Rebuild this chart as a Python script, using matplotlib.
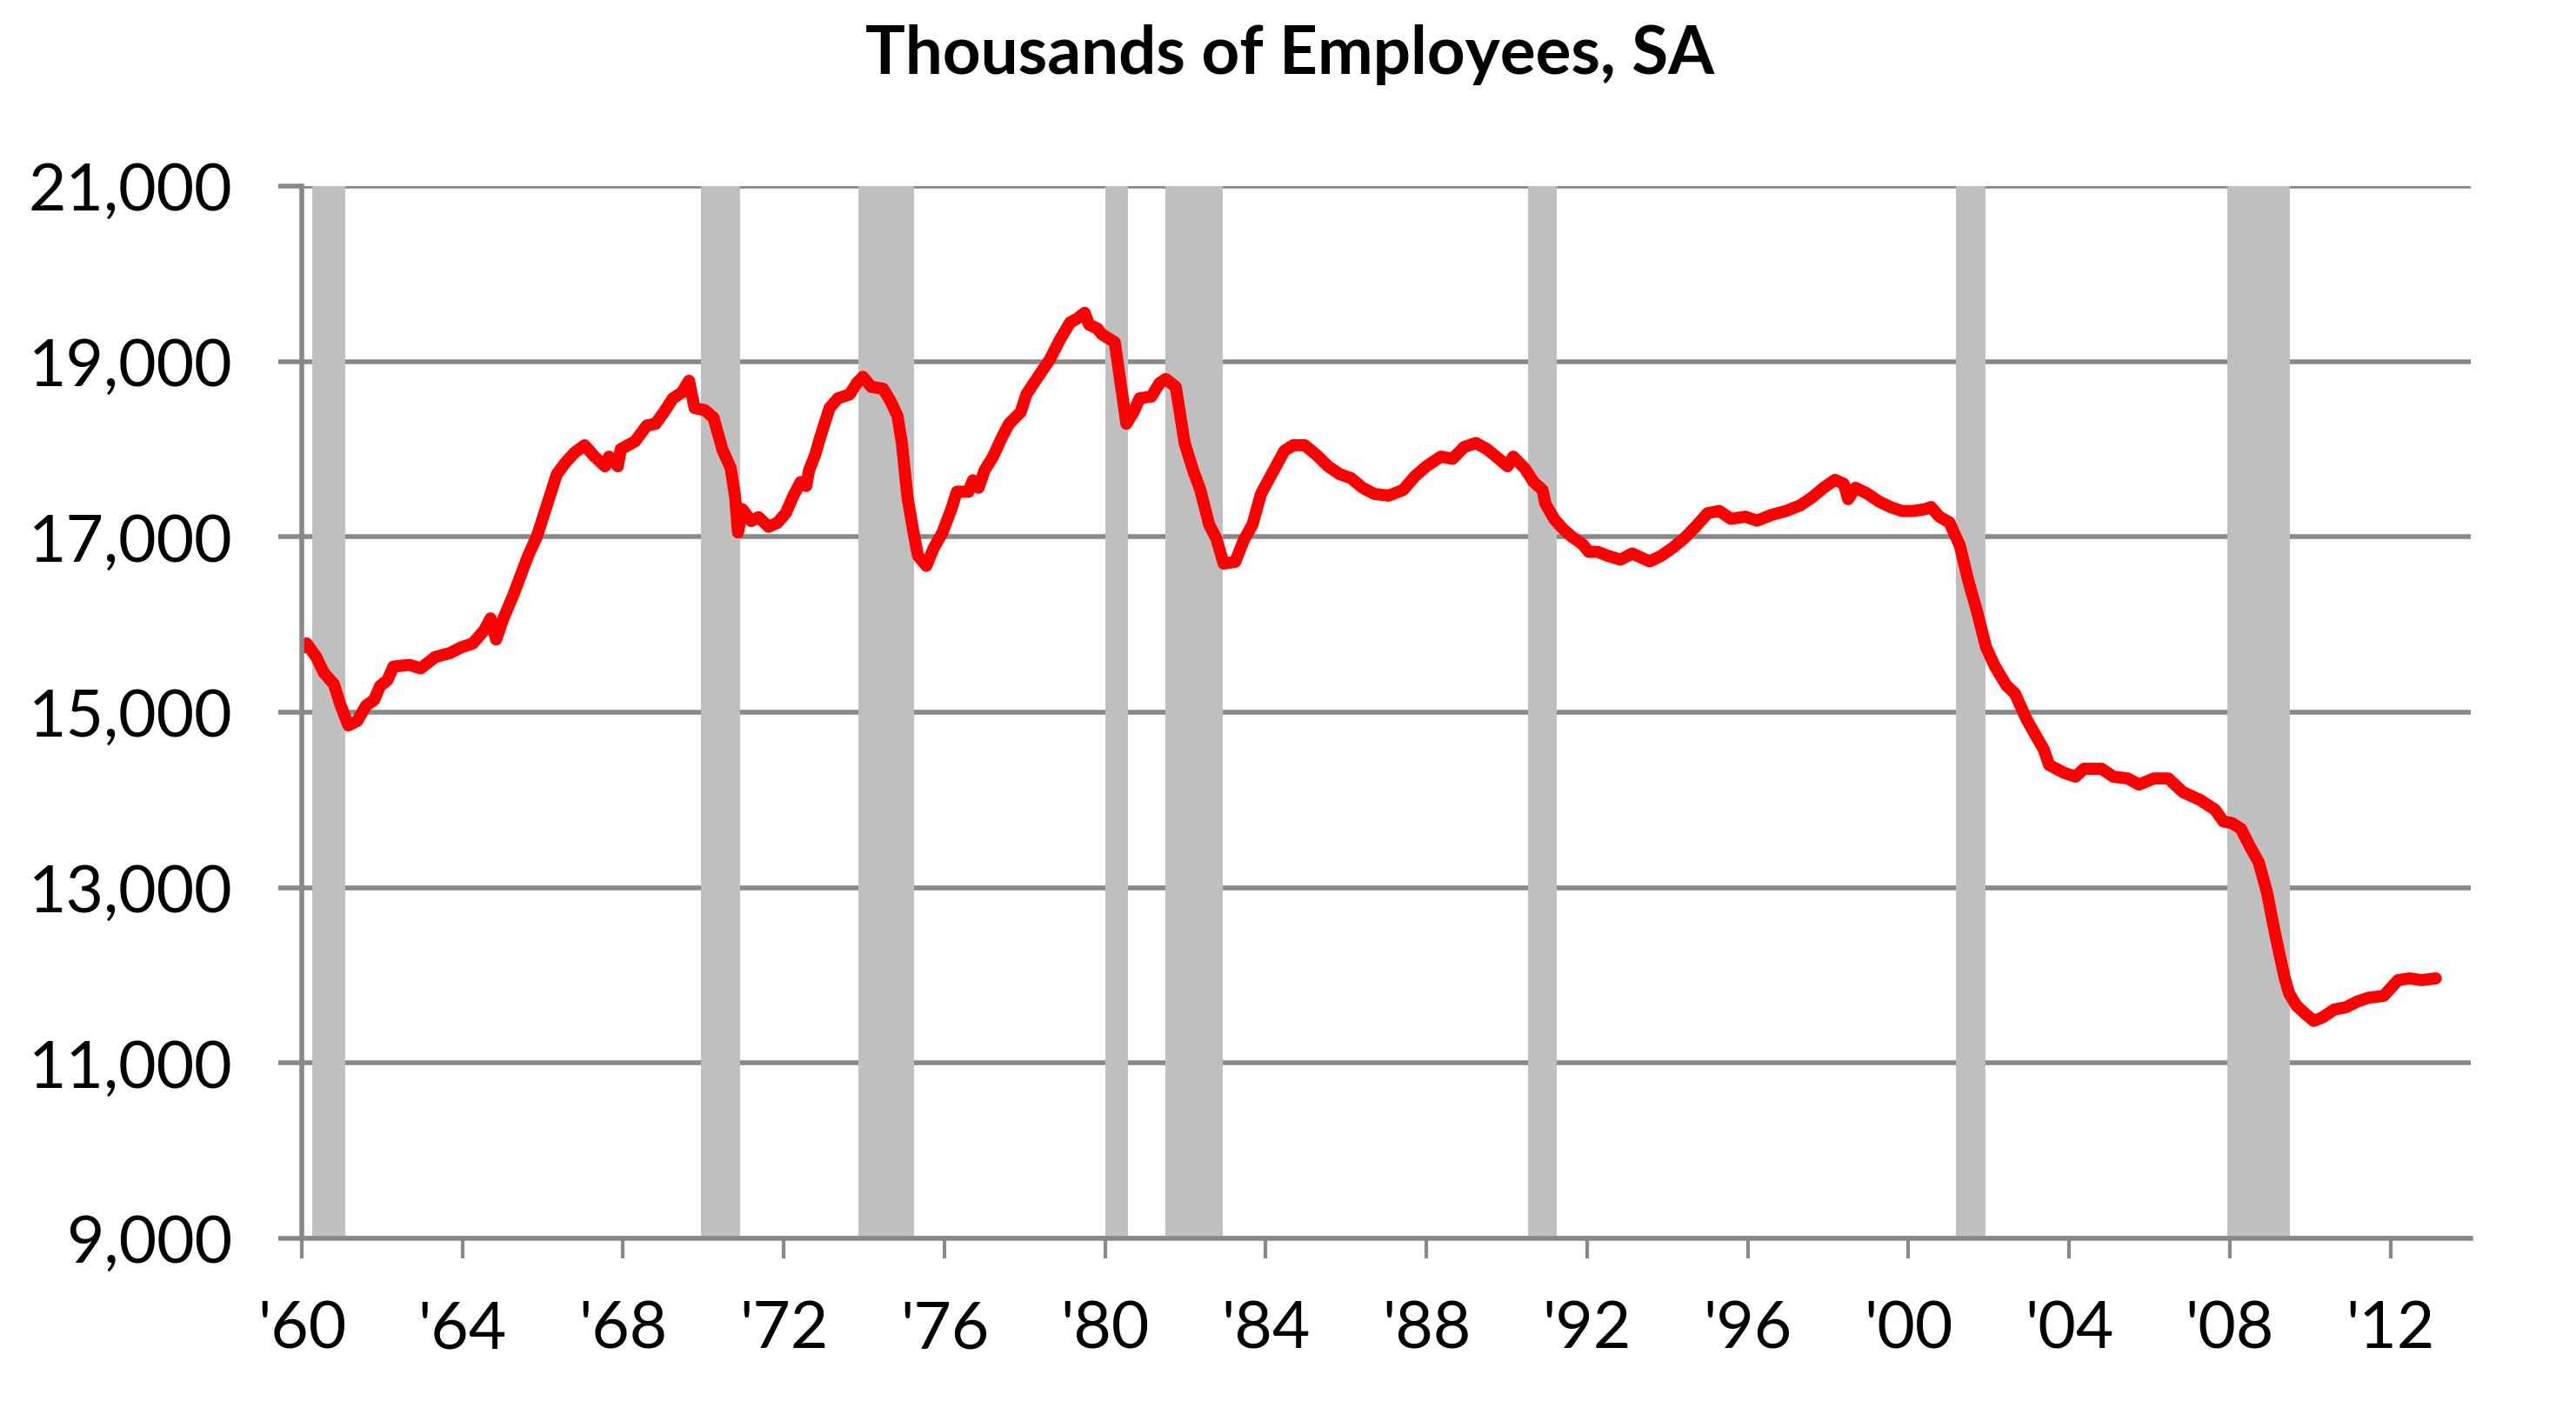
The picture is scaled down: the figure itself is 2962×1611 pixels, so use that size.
import matplotlib
matplotlib.use("Agg")
import matplotlib.pyplot as plt

# manufacturing employment, thousands
years = [1960.04, 1960.12, 1960.36, 1960.55, 1960.80, 1960.95, 1961.16, 1961.38, 1961.60, 1961.80,
         1961.95, 1962.13, 1962.28, 1962.68, 1962.96, 1963.32, 1963.69, 1963.97, 1964.26, 1964.55,
         1964.70, 1964.84, 1965.02, 1965.27, 1965.63, 1965.85, 1966.07, 1966.35, 1966.57, 1966.79,
         1967.04, 1967.29, 1967.55, 1967.65, 1967.87, 1967.94, 1968.30, 1968.59, 1968.81, 1969.02,
         1969.24, 1969.46, 1969.64, 1969.78, 1970.03, 1970.25, 1970.47, 1970.68, 1970.79, 1970.86,
         1970.97, 1971.19, 1971.37, 1971.62, 1971.84, 1972.05, 1972.24, 1972.42, 1972.56, 1972.63,
         1972.78, 1972.92, 1973.14, 1973.35, 1973.64, 1973.82, 1973.97, 1974.18, 1974.47, 1974.65,
         1974.83, 1974.94, 1975.08, 1975.23, 1975.34, 1975.55, 1975.73, 1975.95, 1976.17, 1976.31,
         1976.60, 1976.71, 1976.85, 1977.00, 1977.21, 1977.43, 1977.61, 1977.90, 1978.04, 1978.33,
         1978.62, 1978.87, 1979.13, 1979.31, 1979.49, 1979.60, 1979.81, 1979.92, 1980.24, 1980.39,
         1980.53, 1980.71, 1980.86, 1981.15, 1981.36, 1981.51, 1981.65, 1981.76, 1981.98, 1982.19,
         1982.37, 1982.59, 1982.77, 1982.95, 1983.24, 1983.45, 1983.67, 1983.88, 1984.17, 1984.46,
         1984.68, 1984.97, 1985.26, 1985.55, 1985.84, 1986.12, 1986.41, 1986.70, 1987.06, 1987.42,
         1987.71, 1988.00, 1988.36, 1988.65, 1988.94, 1989.23, 1989.51, 1989.80, 1990.02, 1990.16,
         1990.45, 1990.67, 1990.89, 1990.96, 1991.18, 1991.39, 1991.61, 1991.89, 1992.04, 1992.26,
         1992.51, 1992.83, 1993.12, 1993.56, 1993.85, 1994.13, 1994.42, 1994.71, 1995.00, 1995.29,
         1995.58, 1995.94, 1996.23, 1996.59, 1996.95, 1997.31, 1997.60, 1997.89, 1998.17, 1998.39,
         1998.50, 1998.68, 1998.97, 1999.26, 1999.55, 1999.84, 2000.12, 2000.41, 2000.56, 2000.77,
         2001.02, 2001.28, 2001.49, 2001.71, 2001.93, 2002.15, 2002.44, 2002.65, 2002.94, 2003.15,
         2003.37, 2003.50, 2003.87, 2004.16, 2004.37, 2004.81, 2005.10, 2005.46, 2005.74, 2006.11,
         2006.47, 2006.83, 2007.26, 2007.63, 2007.84, 2008.06, 2008.28, 2008.50, 2008.72, 2008.93,
         2009.08, 2009.22, 2009.37, 2009.48, 2009.66, 2009.87, 2010.09, 2010.31, 2010.60, 2010.89,
         2011.17, 2011.46, 2011.83, 2012.19, 2012.48, 2012.77, 2013.13]
employees = [15740, 15785, 15630, 15450, 15320, 15100, 14850, 14900, 15075, 15140,
             15300, 15365, 15520, 15540, 15500, 15630, 15675, 15740, 15785, 15940,
             16070, 15830, 16070, 16340, 16780, 17000, 17315, 17715, 17850, 17960,
             18045, 17915, 17805, 17915, 17805, 18000, 18090, 18270, 18290, 18425,
             18580, 18645, 18780, 18470, 18445, 18360, 18000, 17780, 17450, 17050,
             17315, 17180, 17225, 17115, 17160, 17270, 17470, 17625, 17580, 17760,
             17935, 18155, 18470, 18580, 18625, 18755, 18825, 18710, 18690, 18555,
             18380, 18070, 17450, 17050, 16785, 16670, 16870, 17050, 17315, 17515,
             17515, 17645, 17560, 17760, 17915, 18135, 18290, 18425, 18625, 18825,
             19020, 19245, 19445, 19490, 19555, 19420, 19375, 19310, 19220, 18735,
             18290, 18425, 18580, 18600, 18755, 18800, 18750, 18710, 18070, 17760,
             17535, 17140, 16980, 16695, 16715, 16960, 17140, 17490, 17735, 17980,
             18045, 18045, 17935, 17805, 17715, 17670, 17560, 17490, 17470, 17535,
             17690, 17805, 17915, 17890, 18025, 18070, 18000, 17890, 17805, 17915,
             17780, 17625, 17535, 17380, 17205, 17095, 17005, 16915, 16830, 16830,
             16785, 16740, 16810, 16720, 16785, 16875, 16985, 17120, 17270, 17295,
             17205, 17230, 17185, 17250, 17295, 17360, 17450, 17560, 17650, 17605,
             17430, 17560, 17495, 17405, 17340, 17295, 17295, 17315, 17340, 17230,
             17165, 16900, 16500, 16145, 15745, 15525, 15305, 15215, 14920, 14750,
             14575, 14400, 14310, 14265, 14355, 14355, 14265, 14245, 14175, 14245,
             14245, 14090, 14000, 13890, 13755, 13735, 13670, 13470, 13290, 12940,
             12585, 12275, 11965, 11790, 11655, 11565, 11480, 11520, 11610, 11635,
             11700, 11745, 11765, 11945, 11965, 11945, 11965]

# recessions (start, end) in decimal years
rec_start = [1960.25, 1969.93, 1973.85, 1980.00, 1981.50, 1990.52, 2001.18, 2007.94]
rec_end = [1961.08, 1970.92, 1975.24, 1980.58, 1982.93, 1991.25, 2001.92, 2009.50]

xticks = list(range(1960, 2013, 4))
xtick_labels = ["'60", "'64", "'68", "'72", "'76", "'80", "'84", "'88",
                "'92", "'96", "'00", "'04", "'08", "'12"]
yticks = [9000, 11000, 13000, 15000, 17000, 19000, 21000]
ytick_labels = ["9,000", "11,000", "13,000", "15,000", "17,000", "19,000", "21,000"]

plt.rcParams['font.family'] = ['Lato', 'DejaVu Sans']
grey = "#898989"

fig = plt.figure(figsize=(14.81, 8.055), dpi=200)
ax = fig.add_axes([0.11715, 0.11608, 0.842, 0.75108])

for s, e in zip(rec_start, rec_end):
    ax.axvspan(s, e, color="#bfbfbf", lw=0, zorder=1)

ax.plot(years, employees, color="#ff0000", lw=5, zorder=3,
        solid_joinstyle="round", solid_capstyle="round")

ax.set_xlim(1960, 2014)
ax.set_ylim(9000, 21000)
ax.set_xticks(xticks)
ax.set_xticklabels(xtick_labels)
ax.set_yticks(yticks)
ax.set_yticklabels(ytick_labels)

ax.yaxis.grid(True, color=grey, lw=2, zorder=0)
ax.set_axisbelow(True)
for side in ["top", "right"]:
    ax.spines[side].set_visible(False)
ax.spines["left"].set_color(grey)
ax.spines["left"].set_linewidth(2)
ax.spines["bottom"].set_color(grey)
ax.spines["bottom"].set_linewidth(2)
ax.spines["left"].set_zorder(4)
ax.spines["bottom"].set_zorder(4)

ax.tick_params(axis="y", direction="out", length=9.7, width=2, color=grey,
               pad=19, labelsize=27)
ax.tick_params(axis="x", direction="out", length=8.3, width=1.5, color=grey,
               pad=17, labelsize=27)

fig.text(0.5007, 0.947, "Thousands of Employees, SA", ha="center", va="baseline",
         fontsize=27.5, fontweight="bold")

fig.savefig("out.png", dpi=200)
